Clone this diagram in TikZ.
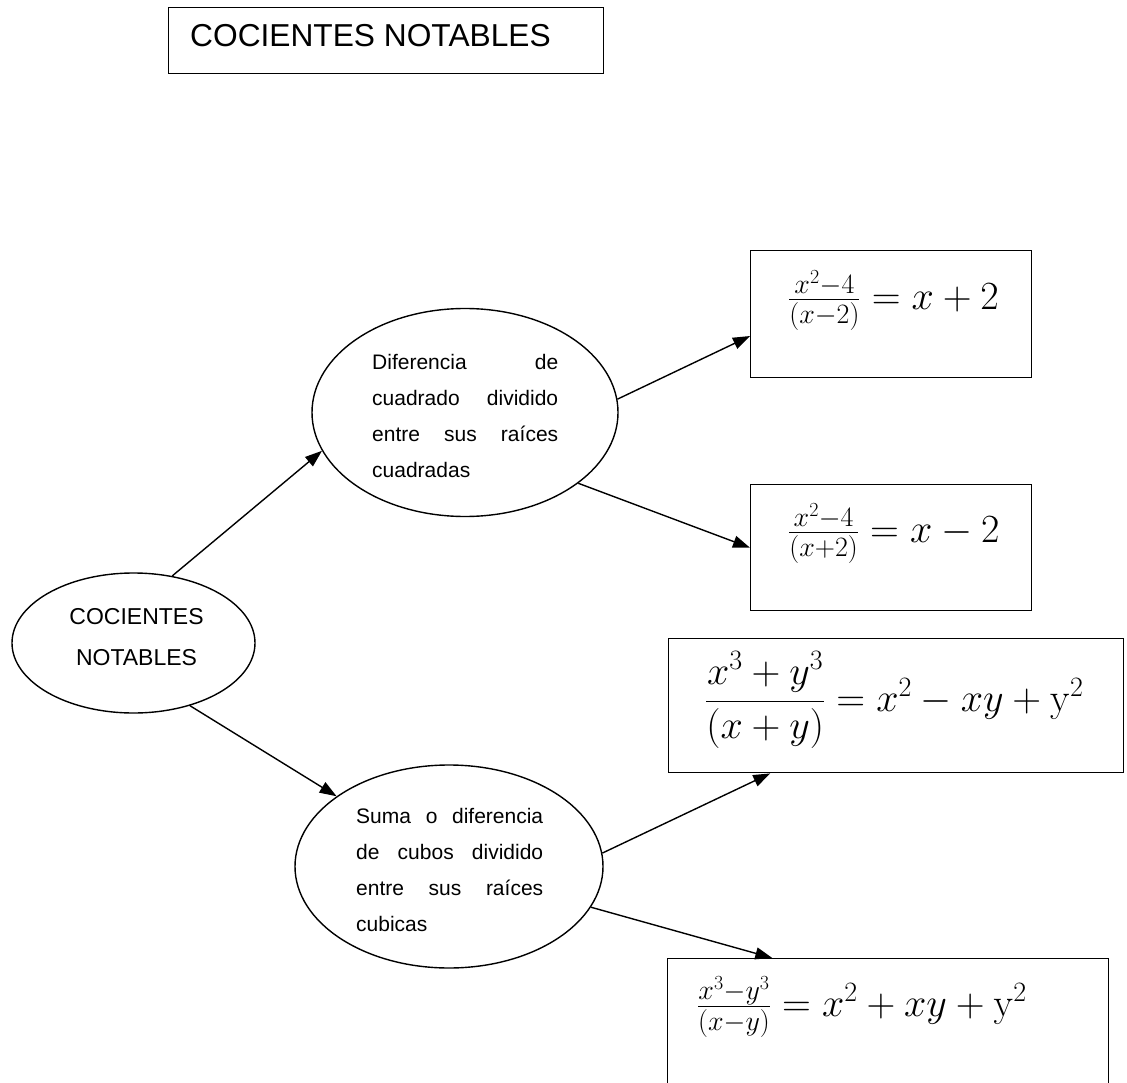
\RequirePackage{fix-cm}
\documentclass[tikz,border=0pt]{standalone}
\usepackage{amsmath}
\usepackage[no-math]{fontspec}
\setmainfont{Liberation Sans}
\usetikzlibrary{shapes.geometric,arrows.meta,calc}
\begin{document}
\begin{tikzpicture}[x=1pt,y=1pt,
  frame/.style={draw, line width=1.4pt, rectangle, inner sep=0pt, anchor=north west},
  oval/.style={draw, line width=1.4pt, ellipse, inner sep=0pt},
  caption/.style={inner sep=0pt, anchor=base west},
  link/.style={line width=1.4pt, -{Triangle[length=17pt,width=12pt]}},
  formula/.style={inner sep=0pt, anchor=base west, font=\fontsize{40}{40}\selectfont},
  ovaltext/.style={inner sep=0pt, anchor=base west, font=\fontsize{21}{36}\selectfont}
]
\useasboundingbox (0,0) rectangle (1127,-1083);

% heading
\node[frame, minimum width=435pt, minimum height=66pt] (head) at (168,-7) {};
\node[caption, font=\fontsize{31.7}{36}\selectfont] (headtext) at (190,-47) {COCIENTES NOTABLES};

% ovals
\node[oval, minimum width=243pt, minimum height=140pt] (root) at (133.5,-643) {};
\node[inner sep=0pt, anchor=base, font=\fontsize{23}{41}\selectfont] (roottext) at (136.5,-624)
  {\parbox[t]{200pt}{\centering COCIENTES\\NOTABLES}};

\node[oval, minimum width=306pt, minimum height=208pt] (e1) at (465,-412.5) {};
\node[ovaltext] (e1text) at (372,-369)
  {\parbox[t]{186pt}{%
    \makebox[\linewidth][s]{Diferencia de}\\
    \makebox[\linewidth][s]{cuadrado dividido}\\
    \makebox[\linewidth][s]{entre sus raíces}\\
    cuadradas}};

\node[oval, minimum width=308pt, minimum height=203pt] (e2) at (449,-866.5) {};
\node[ovaltext] (e2text) at (356,-823)
  {\parbox[t]{187pt}{%
    \makebox[\linewidth][s]{Suma o diferencia}\\
    \makebox[\linewidth][s]{de cubos dividido}\\
    \makebox[\linewidth][s]{entre sus raíces}\\
    cubicas}};

% result boxes
\node[frame, minimum width=281pt, minimum height=127pt] (b1) at (750,-250) {};
\node[frame, minimum width=281pt, minimum height=126pt] (b2) at (750,-484) {};
\node[frame, minimum width=455pt, minimum height=134pt] (b3) at (668,-638) {};
\node[frame, minimum width=441pt, minimum height=160pt] (b4) at (667,-958) {};

\node[formula] (f1) at (788,-309.5) {$\tfrac{x^2-4}{(x-2)}=x+2$};
\node[formula] (f2) at (788,-542.5) {$\tfrac{x^2-4}{(x+2)}=x-2$};
\node[formula] (f3) at (705,-711.5) {$\dfrac{x^3+y^3}{(x+y)}=x^2-xy+\mathrm{y}^2$};
\node[formula, anchor=base east] (f4) at (1027,-1016.5) {$\tfrac{x^3-y^3}{(x-y)}=x^2+xy+\mathrm{y}^2$};

% connectors
\draw[link] (root.60.6) -- (e1.195.9);
\draw[link] (root.-48.4) -- (e2.148.6);
\draw[link] (e1.5.8) -- ($(b1.north west)!0.67!(b1.south west)$);
\draw[link] (e1.-32.9) -- (b2.west);
\draw[link] (e2.5.4) -- ($(b3.south west)!0.224!(b3.south east)$);
\draw[link] (e2.-16.2) -- ($(b4.north west)!0.238!(b4.north east)$);
\end{tikzpicture}
\end{document}
